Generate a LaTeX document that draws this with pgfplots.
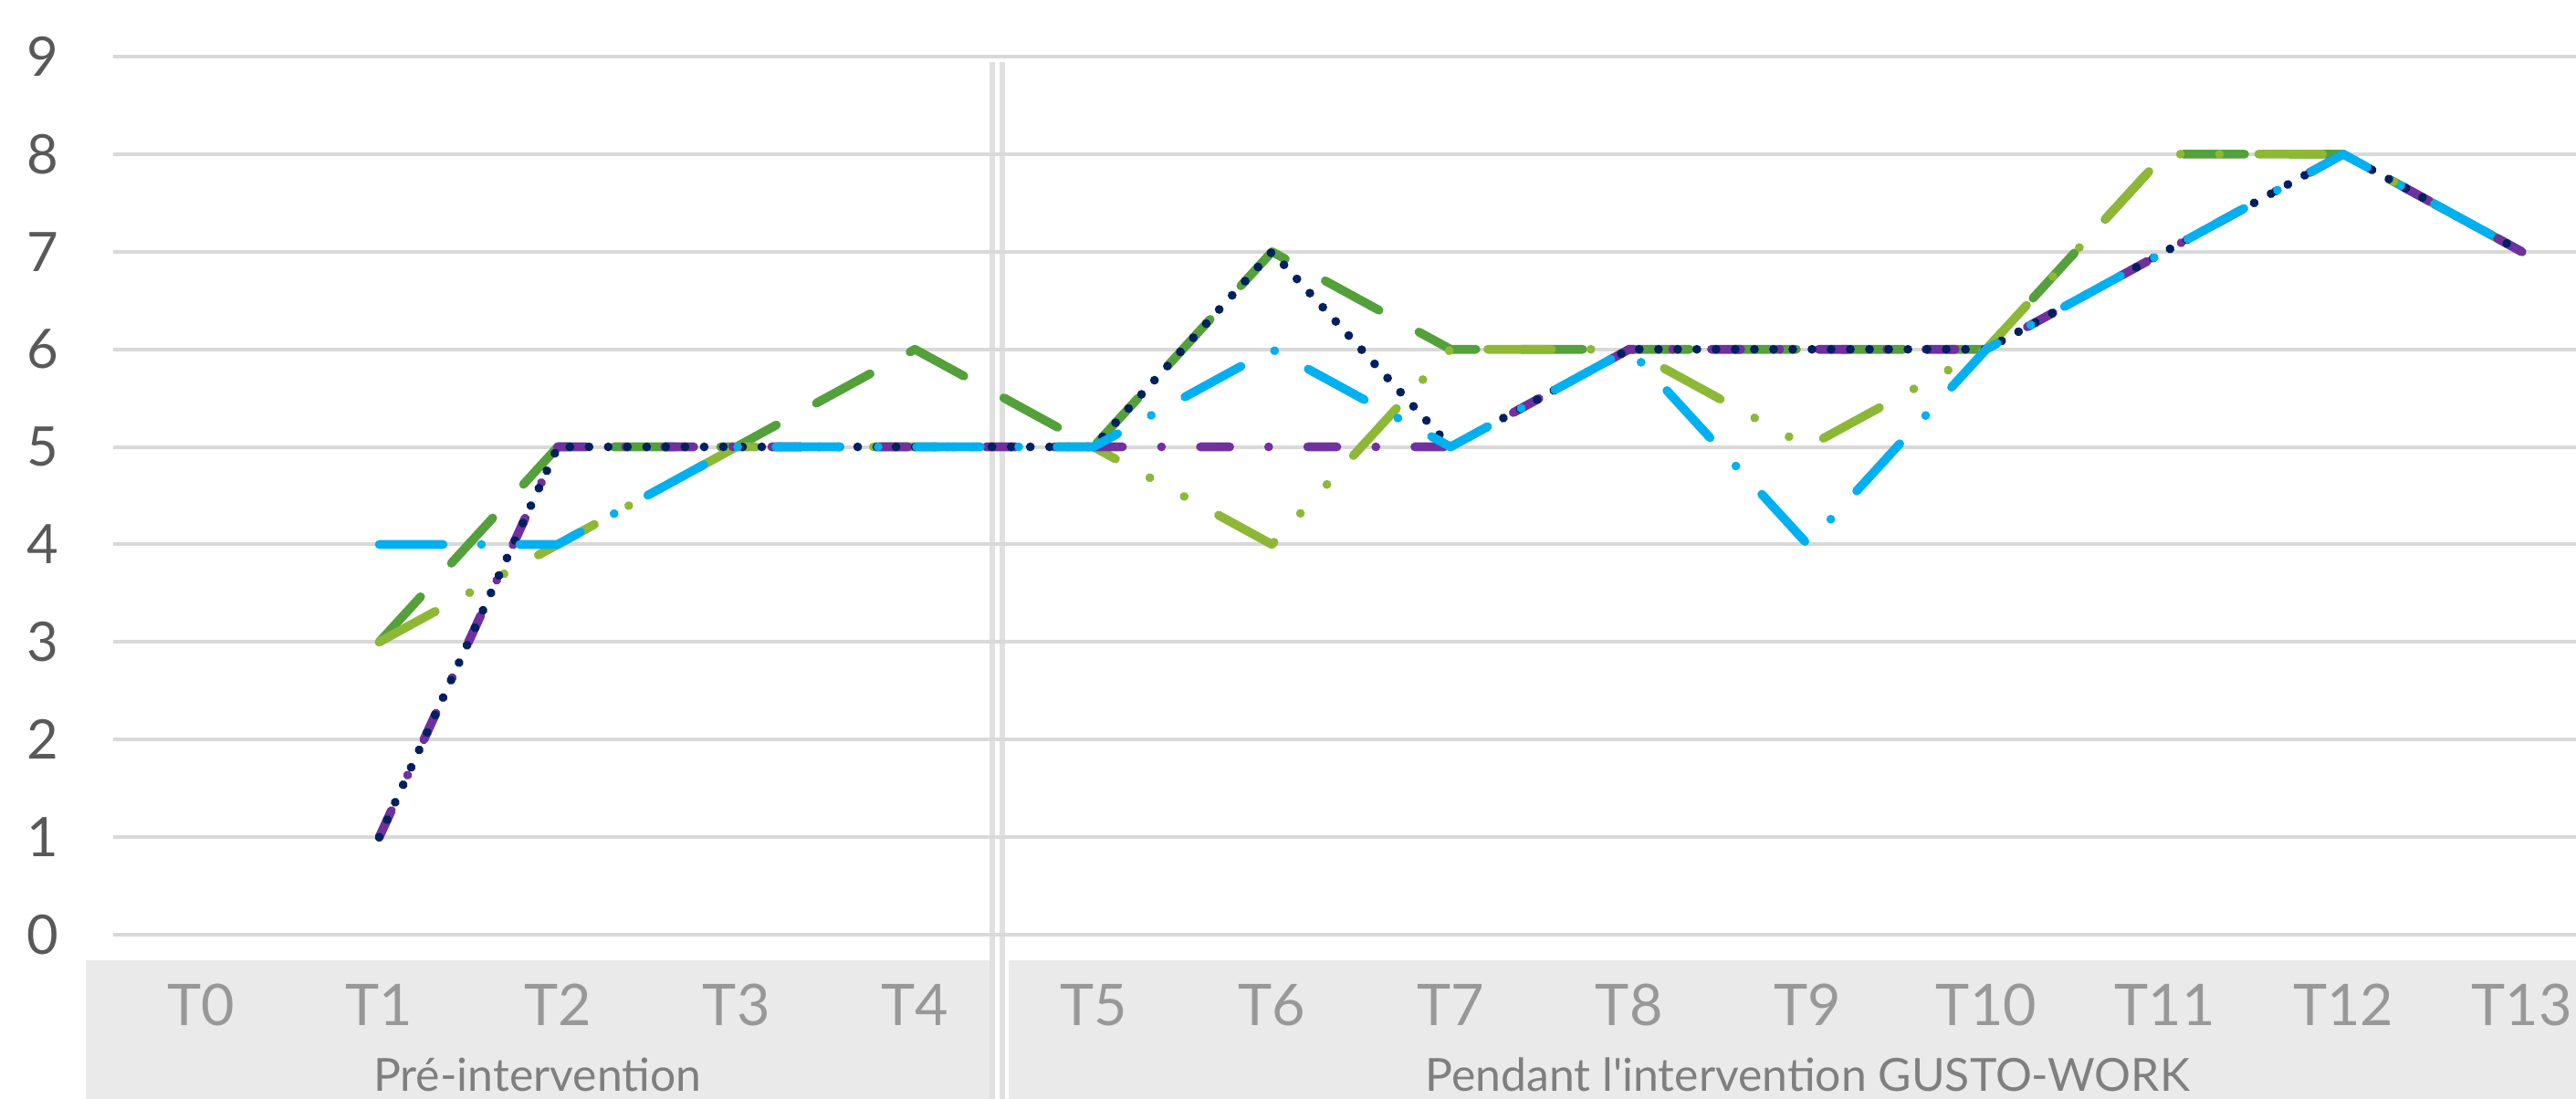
\documentclass[border=0pt]{standalone}
\usepackage{fontspec}
\setmainfont{Lato}
\newfontfamily\plainlato{Lato}
\usepackage{pgfplots}
\pgfplotsset{compat=1.18}
\definecolor{cblue}{HTML}{00B0F0}
\definecolor{clgreen}{HTML}{8DB836}
\definecolor{cdgreen}{HTML}{54A03A}
\definecolor{cnavy}{HTML}{002060}
\definecolor{cpurple}{HTML}{7030A0}
\definecolor{cgrid}{HTML}{D9D9D9}
\definecolor{cbox}{HTML}{EAEAEA}
\definecolor{csep}{HTML}{E0E0E0}
\definecolor{cylab}{HTML}{595959}
\definecolor{cxlab}{HTML}{989898}
\definecolor{cglab}{HTML}{7F7F7F}
\begin{document}
\begin{tikzpicture}
\begin{axis}[
  set layers,
  at={(0,0)}, anchor=south west,
  scale only axis, width=269.8mm, height=96.2mm,
  xmin=-0.49, xmax=13.303, ymin=0, ymax=9,
  axis line style={draw=none},
  major tick length=0pt,
  ytick={0,1,2,3,4,5,6,7,8,9},
  xtick={0,1,2,3,4,5,6,7,8,9,10,11,12,13},
  xticklabels={T0,T1,T2,T3,T4,T5,T6,T7,T8,T9,T10,T11,T12,T13},
  ymajorgrids, grid style={cgrid, line width=1.14pt},
  yticklabel style={font=\fontsize{17}{20}\selectfont, text=cylab, anchor=east, inner sep=0pt, xshift=-5.9mm},
  xticklabel style={font=\fontsize{17.9}{20}\selectfont, text=cxlab, anchor=base, inner sep=0pt, yshift=-9.9mm},
  /pgf/number format/assume math mode=true,
  clip=false,
  every axis plot/.append style={line cap=round, line join=round, line width=2.75pt},
]
\begin{pgfonlayer}{axis background}
\fill[cbox] (axis cs:-0.644,-0.262) rectangle (axis cs:4.417,-2);
\fill[cbox] (axis cs:4.525,-0.262) rectangle (axis cs:13.6,-2);
\draw[csep, line width=1.56pt] (axis cs:4.433,8.943) -- (axis cs:4.433,-2);
\draw[csep, line width=1.56pt] (axis cs:4.489,8.943) -- (axis cs:4.489,-2);
\end{pgfonlayer}
\node[anchor=base, inner sep=0pt, font=\plainlato\fontsize{14.2}{16}\selectfont, text=cglab] at (axis cs:1.886,-1.600) {Pré-intervention};
\node[anchor=base, inner sep=0pt, font=\plainlato\fontsize{14.2}{16}\selectfont, text=cglab] at (axis cs:9.0,-1.600) {Pendant l'intervention GUSTO-WORK};
% dark green, long dash
\addplot[cdgreen, dash pattern=on 19.1pt off 14.2pt] coordinates {
(1,3) (2,5) (3,5) (4,6) (5,5) (6,7) (7,6) (8,6) (9,6) (10,6) (11,8) (12,8) (13,7)};
% light green, long dash dot dot
\addplot[clgreen, dash pattern=on 19.9pt off 12.2pt on 0.01pt off 12.2pt on 0.01pt off 12.2pt] coordinates {
(1,3) (2,4) (3,5) (4,5) (5,5) (6,4) (7,6) (8,6) (9,5) (10,6) (11,8) (12,8) (13,7)};
% purple, dash dot
\addplot[cpurple, dash pattern=on 9.1pt off 12.15pt on 0.01pt off 12.15pt] coordinates {
(1,1) (2,5) (3,5) (4,5) (5,5) (6,5) (7,5) (8,6) (9,6) (10,6) (11,7) (12,8) (13,7)};
% navy, round dot
\addplot[cnavy, dash pattern=on 0.01pt off 5.97pt] coordinates {
(1,1) (2,5) (3,5) (4,5) (5,5) (6,7) (7,5) (8,6) (9,6) (10,6) (11,7) (12,8) (13,7)};
% light blue, long dash dot
\addplot[cblue, dash pattern=on 19.9pt off 11.95pt on 0.01pt off 11.95pt] coordinates {
(1,4) (2,4) (3,5) (4,5) (5,5) (6,6) (7,5) (8,6) (9,4) (10,6) (11,7) (12,8) (13,7)};
\end{axis}
\pgfresetboundingbox
\path[use as bounding box] (-12.4mm,-17.9mm) rectangle (269.8mm,102.4mm);
\end{tikzpicture}
\end{document}
